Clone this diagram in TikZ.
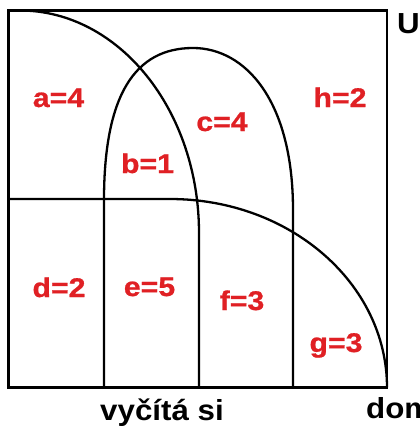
\documentclass[tikz,border=0pt]{standalone}
\usepackage{fontspec}
\newfontfamily\labfont{Liberation Sans}[FakeStretch=1.12,BoldFeatures={FakeBold=0.8}]
\newfontfamily\blkfont{Liberation Sans}[FakeStretch=1.08]
\definecolor{labred}{RGB}{224,32,36}
\tikzset{
  boxline/.style={line width=2.6pt},
  curveline/.style={line width=2.3pt},
  lab/.style={text=labred,anchor=base,inner sep=0pt,font=\labfont\bfseries\fontsize{27}{27}\selectfont},
  axislab/.style={text=black,anchor=base west,inner sep=0pt,font=\blkfont\bfseries\fontsize{29}{29}\selectfont}
}
\begin{document}
\begin{tikzpicture}[x=1pt,y=-1pt]
\useasboundingbox (0,0) rectangle (420,434);
\fill[white] (0,0) rectangle (420,434);
% frame
\coordinate (tl) at (8.5,10.5);
\coordinate (br) at (387,387.5);
\draw[boxline] (tl) rectangle (br);
% first set: quarter ellipse from top-left, continuing down
\coordinate (p1) at (20,10.5);
\coordinate (p1e) at (199,387.5);
\draw[curveline] (p1) arc[start angle=-90,end angle=0,x radius=179,y radius=222.5] -- (p1e);
% second set: arch
\coordinate (q0) at (104,387.5);
\coordinate (q1) at (104,200);
\coordinate (qt) at (193,48);
\coordinate (q2) at (293,210);
\coordinate (q3) at (293,387.5);
\draw[curveline] (q0) -- (q1) .. controls (104,95) and (135,48) .. (qt)
  .. controls (245,48) and (293,100) .. (q2) -- (q3);
% third set: horizontal line then quarter ellipse to bottom-right corner
\coordinate (r0) at (8.5,199);
\coordinate (r1) at (170,199);
\draw[curveline] (r0) -- (r1) arc[start angle=-90,end angle=0,x radius=217,y radius=188.5];
% labels
\node[lab] (a) at (58.5,107) {a=4};
\node[lab] (h) at (340,107) {h=2};
\node[lab] (c) at (222,131) {c=4};
\node[lab] (b) at (147.5,173) {b=1};
\node[lab] (d) at (59,297) {d=2};
\node[lab] (e) at (149.5,296) {e=5};
\node[lab] (f) at (242,310) {f=3};
\node[lab] (g) at (336,352) {g=3};
% axis texts
\node[axislab] (U) at (397,33) {U};
\node[axislab] (vy) at (100,420) {vyčítá si};
\node[axislab] (dom) at (366,418) {dom};
\end{tikzpicture}
\end{document}
